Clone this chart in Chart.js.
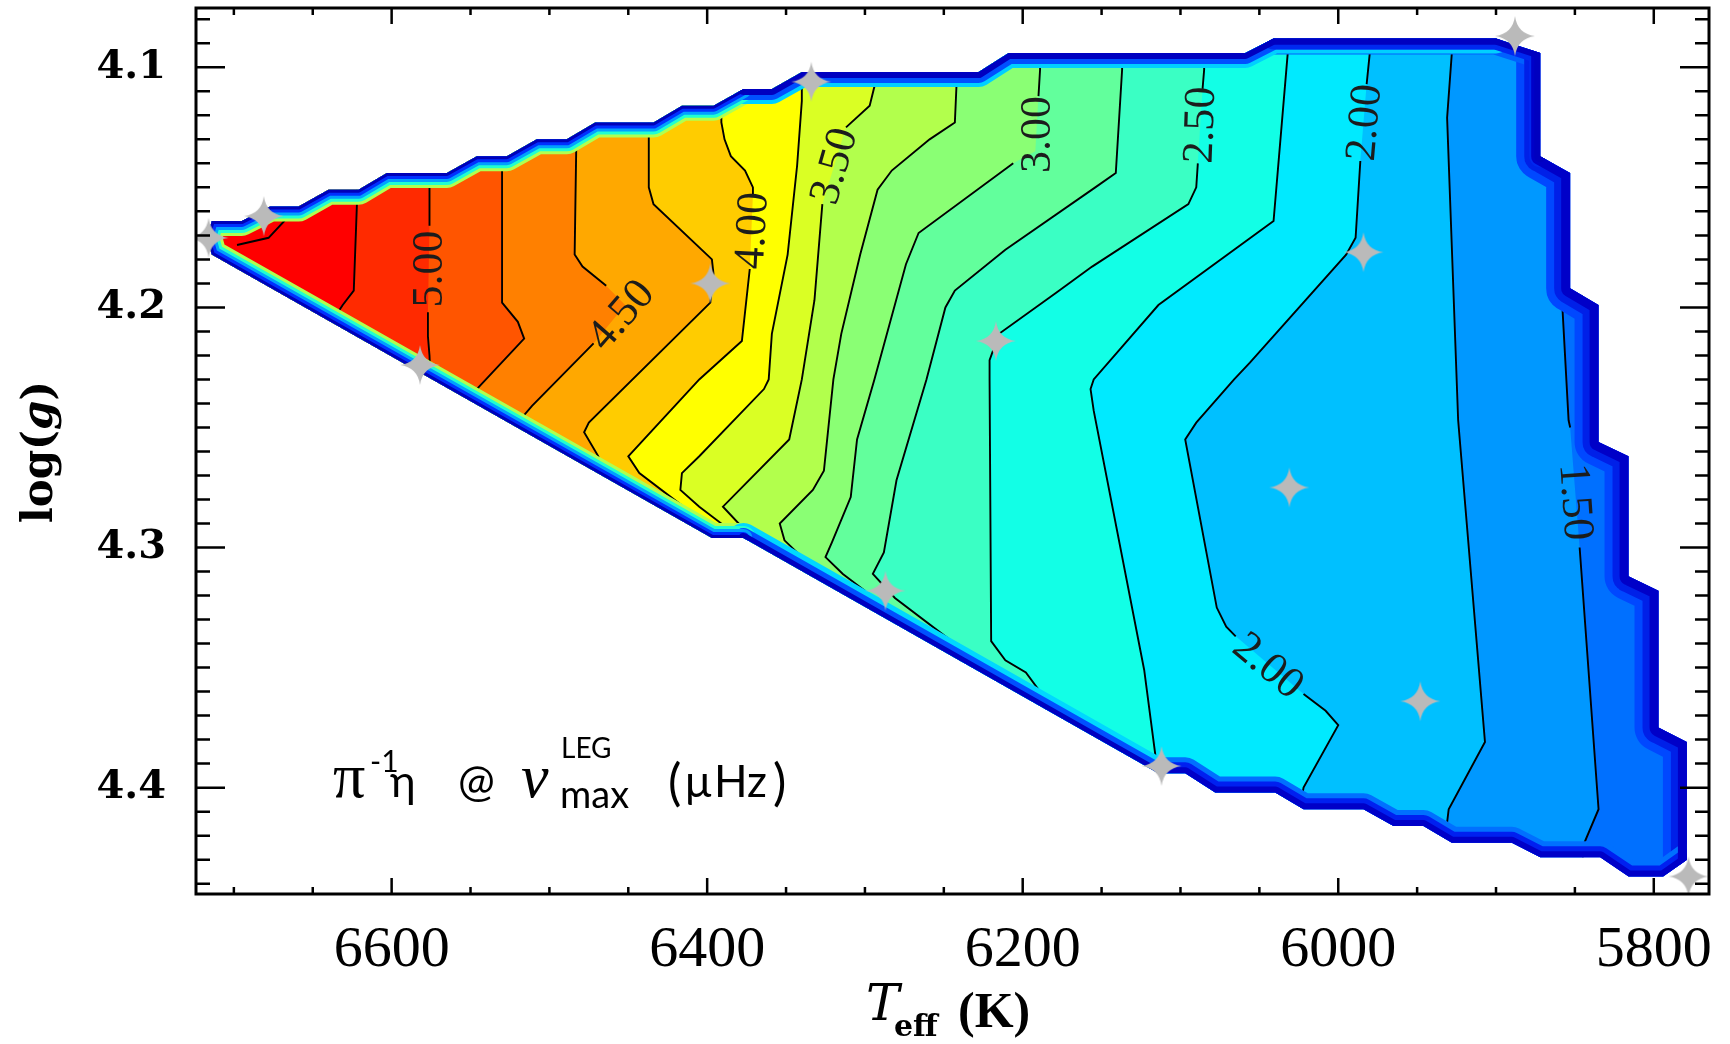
<!DOCTYPE html>
<html>
<head>
<meta charset="utf-8">
<title>eta at numax map</title>
<script src="https://cdn.jsdelivr.net/npm/chart.js@4.4.1/dist/chart.umd.min.js"></script>
<style>
  html, body { margin: 0; padding: 0; background: #fff; }
  #holder { width: 1730px; height: 1044px; }
</style>
</head>
<body>
<div id="holder"><canvas id="etaMap" width="1730" height="1044"></canvas></div>
<script>
// axis limits and tick labels
const teffLimits = [5765, 6724];
const loggLimits = [4.0753, 4.4443];
const teffTicks = [5800, 6000, 6200, 6400, 6600];
const loggTicks = [4.1, 4.2, 4.3, 4.4];

// outline of the model grid, [Teff, log g]
const domain = [
  [6114,4.394],[6377,4.296],[6397,4.296],[6714,4.178],[6717,4.171],[6714,4.164],
  [6695,4.164],[6677,4.158],[6659,4.158],[6640,4.151],[6621,4.151],[6603,4.144],
  [6565,4.144],[6546,4.137],[6527,4.137],[6508,4.130],[6489,4.130],[6471,4.123],
  [6434,4.123],[6416,4.116],[6396,4.116],[6377,4.109],[6359,4.109],[6340,4.102],
  [6228,4.102],[6209,4.094],[6059,4.094],[6041,4.088],[5900,4.088],[5872,4.094],
  [5872,4.137],[5853,4.144],[5853,4.192],[5835,4.199],[5835,4.256],[5816,4.262],
  [5816,4.312],[5797,4.318],[5797,4.375],[5779,4.381],[5779,4.430],[5794,4.437],
  [5816,4.437],[5834,4.429],[5872,4.429],[5890,4.423],[5928,4.423],[5946,4.416],
  [5965,4.416],[5984,4.409],[6022,4.409],[6040,4.402],[6078,4.402],[6097,4.394]
];

// contour levels (muHz) and the colour of the band above each one
const levels = [1.50, 1.75, 2.00, 2.25, 2.50, 2.75, 3.00, 3.25, 3.50, 3.75, 4.00, 4.25, 4.50, 4.75, 5.00, 5.25];
const bandColors = ['#0070ff', '#0098ff', '#00c0ff', '#00eaff', '#12ffe6', '#3affc4', '#62ff9c', '#8aff74',
  '#b2ff4c', '#daff24', '#ffff00', '#ffcc00', '#ffa800', '#ff8000', '#ff5500', '#ff2a00', '#ff0000'];

// contour lines, top to bottom; null = gap under a label
const c150 = [[5830,4.076],[5830,4.190],[5858,4.199],[5854,4.247],[5853,4.250],null,[5847,4.300],[5835,4.409],[5844,4.423],[5846,4.437]];
const c175 = [[5928,4.076],[5928,4.094],[5931,4.121],[5924,4.247],[5907,4.381],[5930,4.409],[5934,4.431]];
const c200 = [[5980,4.076],[5980,4.094],[5982,4.107],null,[5986,4.139],[5989,4.171],[5995,4.178],[6056,4.223],[6066,4.230],
  [6090,4.248],[6097,4.255],[6077,4.325],[6071,4.333],[6065,4.337],null,[6022,4.361],[6008,4.368],[6000,4.374],[6022,4.400],[6026,4.416]];
const c225 = [[6032,4.076],[6032,4.094],[6041,4.164],[6114,4.199],[6155,4.230],[6157,4.234],[6155,4.243],[6123,4.351],[6116,4.386],[6114,4.401]];
const c250 = [[6085,4.082],[6085,4.101],[6086,4.109],null,[6089,4.140],[6090,4.150],[6095,4.157],[6156,4.183],[6179,4.194],[6215,4.211],
  [6221,4.222],[6221,4.230],[6220,4.339],[6211,4.347],[6198,4.352],[6189,4.360],[6183,4.373]];
const c275 = [[6137,4.082],[6137,4.101],[6141,4.144],[6154,4.150],[6211,4.176],[6243,4.193],[6249,4.200],[6261,4.230],[6280,4.272],
  [6288,4.302],[6295,4.311],[6281,4.321],[6245,4.339],[6236,4.353]];
const c300 = [[6189,4.082],[6189,4.101],[6190,4.112],null,[6192,4.135],null,[6206,4.140],[6266,4.169],[6274,4.182],[6294,4.230],
  [6305,4.255],[6309,4.279],[6321,4.298],[6325,4.304],[6314,4.311],[6300,4.318],[6293,4.334]];
const c325 = [[6242,4.090],[6242,4.108],[6243,4.123],[6259,4.130],[6283,4.143],[6292,4.151],[6303,4.178],[6315,4.211],[6320,4.230],
  [6326,4.268],[6333,4.276],[6354,4.290],[6351,4.297],[6340,4.304],[6332,4.317]];
const c350 = [[6294,4.090],[6294,4.108],[6297,4.116],[6312,4.125],null,[6327,4.157],[6332,4.197],[6340,4.230],[6348,4.255],
  [6390,4.283],[6380,4.290],[6374,4.303]];
const c375 = [[6340,4.090],[6340,4.114],[6343,4.141],[6349,4.178],[6359,4.211],[6361,4.230],[6364,4.234],[6405,4.262],[6416,4.269],
  [6417,4.276],[6405,4.283],[6391,4.290],[6383,4.301]];
const c400 = [[6391,4.098],[6391,4.123],[6389,4.130],[6385,4.137],[6376,4.143],[6371,4.150],[6371,4.153],null,[6373,4.184],[6378,4.214],
  [6405,4.230],[6450,4.262],[6443,4.269],[6415,4.283],[6406,4.298]];
const c425 = [[6437,4.112],[6437,4.129],[6437,4.150],[6434,4.157],[6397,4.180],[6396,4.186],[6398,4.198],[6475,4.248],[6478,4.252],
  [6469,4.262],[6464,4.276]];
const c450 = [[6483,4.112],[6483,4.134],[6484,4.178],[6479,4.183],[6464,4.191],null,[6452,4.199],null,[6472,4.215],[6511,4.241],[6532,4.257]];
const c475 = [[6530,4.125],[6530,4.144],[6530,4.198],[6520,4.206],[6516,4.213],[6546,4.234],[6564,4.246]];
const c500 = [[6576,4.132],[6576,4.150],[6576,4.166],null,[6577,4.202],[6577,4.212],[6576,4.220],[6575,4.236]];
const c525 = [[6622,4.138],[6622,4.157],[6624,4.193],[6631,4.199],[6645,4.213]];
const c550 = [[6698,4.174],[6678,4.171],[6668,4.164],[6664,4.155]];
const contours = [c150, c175, c200, c225, c250, c275, c300, c325, c350, c375, c400, c425, c450, c475, c500, c525];

// model positions
const starTeff = [6716, 6681, 6582, 6398, 6334, 6217, 5888, 5984, 6287, 6112, 6031, 5948, 5778];
const starLogg = [4.171, 4.162, 4.224, 4.190, 4.106, 4.214, 4.087, 4.177, 4.318, 4.391, 4.275, 4.364, 4.437];

// contour labels
const labelText  = ['5.00', '4.50', '4.00', '3.50', '3.00', '2.50', '2.00', '2.00', '1.50'];
const labelTeff  = [6576.5, 6455, 6372, 6320, 6191, 6088, 5984, 6044, 5849];
const labelLogg  = [4.184, 4.203, 4.168, 4.141, 4.128, 4.124, 4.123, 4.349, 4.281];
const labelAngle = [-90, -49, -87, -74, -90, -88, -85, 40, 86];

const xy = p => (p ? {x: p[0], y: p[1]} : {x: null, y: null});
const farTop = [6800, 4.05];
const farBottom = [6800, 4.48];

function area(pts, color, order) {
  return {
    data: pts.map(xy), fill: 'shape', backgroundColor: color,
    borderColor: 'rgba(0,0,0,0)', borderWidth: 0, pointRadius: 0, order: order, clip: false
  };
}

function makeStar(r, color) {
  const c = document.createElement('canvas');
  c.width = c.height = 2 * r + 2;
  const g = c.getContext('2d');
  const m = r + 1, k = r * 0.12;
  g.fillStyle = color;
  g.beginPath();
  g.moveTo(m, m - r);
  g.quadraticCurveTo(m + k, m - k, m + r, m);
  g.quadraticCurveTo(m + k, m + k, m, m + r);
  g.quadraticCurveTo(m - k, m + k, m - r, m);
  g.quadraticCurveTo(m - k, m - k, m, m - r);
  g.fill();
  return c;
}

let datasets = [];
datasets.push(area(domain, bandColors[0], 1000));
contours.forEach(function (c, i) {
  datasets.push(area([farTop].concat(c.filter(p => p), [farBottom]), bandColors[i + 1], 990 - i));
});
contours.concat([c550]).forEach(function (c) {
  datasets.push({data: c.map(xy), fill: false, borderColor: '#000', borderWidth: 1.9, pointRadius: 0, order: 500});
});

// shaded rim of the grid: stacked strokes clipped to the outline, widest first
const warmEdge = domain.slice(1, 22);
const diagMid = domain.slice(0, 2);
const topMid = domain.slice(21, 29);
const topRight = domain.slice(27, 31);
const rightEdge = domain.slice(29, 41);
const bottomEdge = domain.slice(40).concat([domain[0]]);
const rims = [
  [warmEdge, 15, '#b0ff50'], [warmEdge, 12, '#20ffd0'], [warmEdge, 9, '#00a0ff'], [warmEdge, 6, '#0030ff'], [warmEdge, 3, '#0000b8'],
  [diagMid, 15, '#00d8ff'], [diagMid, 10, '#0050ff'], [diagMid, 5, '#0000c0'],
  [topMid, 15, '#00d0ff'], [topMid, 11, '#0050ff'], [topMid, 6, '#0000c0'],
  [topRight, 16, '#0060ff'], [topRight, 11, '#0028f0'], [topRight, 6, '#0000c0'],
  [rightEdge, 24, '#0048ff'], [rightEdge, 16, '#0020e8'], [rightEdge, 9, '#0000c8'],
  [bottomEdge, 16, '#0070ff'], [bottomEdge, 11, '#0020f0'], [bottomEdge, 6, '#0000c8']
];
rims.sort((a, b) => b[1] - a[1]);
rims.forEach(function (r, i) {
  datasets.push({
    data: r[0].map(xy), fill: false, borderColor: r[2], borderWidth: 2 * r[1],
    borderJoinStyle: 'round', borderCapStyle: 'round', pointRadius: 0,
    order: 300 - i, endClip: i === rims.length - 1
  });
});

datasets.push({
  type: 'scatter',
  data: starTeff.map((t, i) => ({x: t, y: starLogg[i]})),
  pointStyle: makeStar(20, '#bababa'), pointRadius: 20, order: 0
});

const domainClip = {
  id: 'domainClip',
  beforeDatasetsDraw(chart) {
    const {ctx, scales: {x, y}} = chart;
    ctx.save();
    ctx.beginPath();
    domain.forEach(function (p, i) {
      const px = x.getPixelForValue(p[0]), py = y.getPixelForValue(p[1]);
      if (i === 0) ctx.moveTo(px, py); else ctx.lineTo(px, py);
    });
    ctx.closePath();
    ctx.clip();
  },
  afterDatasetDraw(chart, args) {
    if (chart.data.datasets[args.index].endClip) chart.ctx.restore();
  }
};

const contourLabels = {
  id: 'contourLabels',
  afterDatasetsDraw(chart) {
    const {ctx, scales: {x, y}} = chart;
    ctx.save();
    ctx.font = '44px "Liberation Serif"';
    ctx.fillStyle = '#1c1c1c';
    ctx.textAlign = 'center';
    ctx.textBaseline = 'middle';
    labelText.forEach(function (s, i) {
      ctx.save();
      ctx.translate(x.getPixelForValue(labelTeff[i]), y.getPixelForValue(labelLogg[i]));
      ctx.rotate(labelAngle[i] * Math.PI / 180);
      ctx.fillText(s, 0, 2);
      ctx.restore();
    });
    ctx.restore();
  }
};

function put(ctx, s, font, x, y) {
  ctx.font = font;
  ctx.fillText(s, x, y);
  return x + ctx.measureText(s).width;
}

const frameAndText = {
  id: 'frameAndText',
  afterDraw(chart) {
    const {ctx, chartArea: a, scales: {x, y}} = chart;
    ctx.save();
    // inward ticks on all four sides
    ctx.strokeStyle = '#000';
    ctx.lineWidth = 2.5;
    ctx.beginPath();
    for (let t = 5800; t <= 6700; t += 50) {
      const px = x.getPixelForValue(t);
      const len = t % 200 === 0 ? 16 : 7;
      ctx.moveTo(px, a.bottom); ctx.lineTo(px, a.bottom - len);
      ctx.moveTo(px, a.top); ctx.lineTo(px, a.top + len);
    }
    for (let i = 408; i <= 444; i++) {
      const py = y.getPixelForValue(i / 100);
      const len = i % 10 === 0 ? 29 : 14;
      ctx.moveTo(a.left, py); ctx.lineTo(a.left + len, py);
      ctx.moveTo(a.right, py); ctx.lineTo(a.right - len, py);
    }
    ctx.stroke();
    ctx.lineWidth = 3;
    ctx.strokeRect(a.left, a.top, a.right - a.left, a.bottom - a.top);

    ctx.fillStyle = '#000';
    ctx.textAlign = 'left';
    ctx.textBaseline = 'alphabetic';

    // y title
    ctx.save();
    ctx.translate(52, 452);
    ctx.rotate(-Math.PI / 2);
    ctx.font = 'bold 42px "DejaVu Serif"';
    const w1 = ctx.measureText('log(').width;
    ctx.font = 'bold italic 42px "DejaVu Serif"';
    const w2 = ctx.measureText('g').width;
    ctx.font = 'bold 42px "DejaVu Serif"';
    const w3 = ctx.measureText(')').width;
    let cx = -(w1 + w2 + w3) / 2;
    cx = put(ctx, 'log(', 'bold 42px "DejaVu Serif"', cx, 0);
    cx = put(ctx, 'g', 'bold italic 42px "DejaVu Serif"', cx, 0);
    put(ctx, ')', 'bold 42px "DejaVu Serif"', cx, 0);
    ctx.restore();

    // x title
    put(ctx, 'T', 'italic 50px "DejaVu Serif"', 866, 1020);
    put(ctx, 'eff', 'bold 30px "DejaVu Serif"', 894, 1036);
    put(ctx, '(K)', 'bold 50px "Liberation Serif"', 958, 1027);

    // quantity shown
    put(ctx, 'π', '64px "Liberation Serif"', 333, 797);
    put(ctx, '-1', '30px Lato', 370, 772);
    put(ctx, 'η', '44px Lato', 390, 797);
    put(ctx, '@', '44px Lato', 458, 797);
    put(ctx, 'ν', 'italic 62px "Liberation Serif"', 521, 797);
    put(ctx, 'LEG', '28px Lato', 561, 758);
    put(ctx, 'max', '38px Lato', 560, 808);
    put(ctx, '(', '50px Lato', 668, 800);
    put(ctx, 'μ', '44px Lato', 685, 797);
    put(ctx, 'Hz', '44px Lato', 714, 797);
    put(ctx, ')', '50px Lato', 773, 800);
    ctx.restore();
  }
};

const chart = new Chart(document.getElementById('etaMap'), {
  type: 'line',
  data: {datasets: datasets},
  options: {
    responsive: false,
    devicePixelRatio: 1,
    animation: false,
    events: [],
    layout: {autoPadding: false, padding: {left: 0, right: 21, top: 8, bottom: 0}},
    plugins: {legend: {display: false}, tooltip: {enabled: false}},
    scales: {
      x: {
        type: 'linear', reverse: true,
        min: teffLimits[0], max: teffLimits[1],
        grid: {display: false, drawTicks: false},
        border: {display: false},
        afterBuildTicks: s => { s.ticks = teffTicks.map(v => ({value: v})); },
        afterFit: s => { s.height = 150; s.paddingLeft = 0; s.paddingRight = 0; s.paddingTop = 0; s.paddingBottom = 0; },
        ticks: {
          autoSkip: false, maxRotation: 0, padding: 22, color: '#000',
          font: {family: '"Liberation Serif"', size: 58},
          callback: v => String(v)
        }
      },
      y: {
        type: 'linear', reverse: true,
        min: loggLimits[0], max: loggLimits[1],
        grid: {display: false, drawTicks: false},
        border: {display: false},
        afterBuildTicks: s => { s.ticks = loggTicks.map(v => ({value: v})); },
        afterFit: s => { s.width = 196; s.paddingLeft = 0; s.paddingRight = 0; s.paddingTop = 0; s.paddingBottom = 0; },
        ticks: {
          autoSkip: false, padding: 30, color: '#000',
          font: {family: '"DejaVu Serif"', size: 40, weight: 'bold'},
          callback: v => Number(v).toFixed(1)
        }
      }
    }
  },
  plugins: [domainClip, contourLabels, frameAndText]
});
</script>
</body>
</html>
